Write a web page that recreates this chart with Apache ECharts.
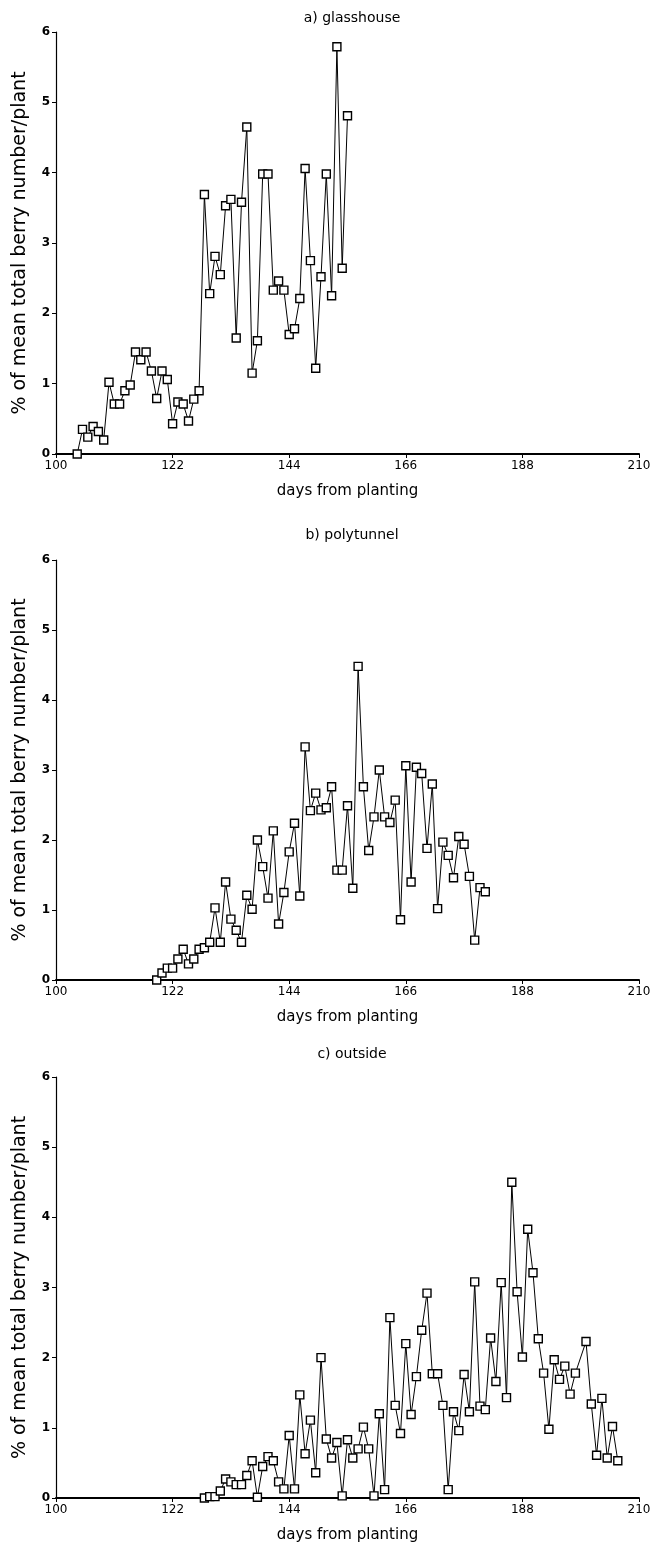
<!DOCTYPE html>
<html>
<head>
<meta charset="utf-8">
<script src="https://cdn.jsdelivr.net/npm/echarts@6/dist/echarts.min.js"></script>
<style>
html,body{margin:0;padding:0;background:#fff;}
#chart{width:656px;height:1557px;}
</style>
</head>
<body>
<div id="chart"></div>
<script>
const panelTitles = ['a) glasshouse', 'b) polytunnel', 'c) outside'];
const xTicks = [100, 122, 144, 166, 188, 210];
const yTicks = [0, 1, 2, 3, 4, 5, 6];

const daysA = [104,105,106,107,108,109,110,111,112,113,114,115,116,117,118,119,120,121,122,123,124,125,126,127,128,129,130,131,132,133,134,135,136,137,138,139,140,141,142,143,144,145,146,147,148,149,150,151,152,153,154,155];
const valuesA = [0,0.35,0.24,0.39,0.32,0.20,1.02,0.71,0.71,0.90,0.98,1.45,1.34,1.45,1.18,0.79,1.18,1.06,0.43,0.74,0.71,0.47,0.78,0.90,3.69,2.28,2.81,2.55,3.53,3.62,1.65,3.58,4.65,1.15,1.61,3.98,3.98,2.33,2.46,2.33,1.70,1.78,2.21,4.06,2.75,1.22,2.52,3.98,2.25,5.79,2.64,4.81];

const daysB = [119,120,121,122,123,124,125,126,127,128,129,130,131,132,133,134,135,136,137,138,139,140,141,142,143,144,145,146,147,148,149,150,151,152,153,154,155,156,157,158,159,160,161,162,163,164,165,166,167,168,169,170,171,172,173,174,175,176,177,178,179,180,181];
const valuesB = [0,0.10,0.17,0.17,0.30,0.44,0.23,0.30,0.44,0.46,0.54,1.03,0.54,1.40,0.87,0.71,0.54,1.21,1.01,2.00,1.62,1.17,2.13,0.80,1.25,1.83,2.24,1.20,3.33,2.42,2.67,2.43,2.46,2.76,1.57,1.57,2.49,1.31,4.48,2.76,1.85,2.33,3.00,2.33,2.25,2.57,0.86,3.06,1.40,3.04,2.95,1.88,2.80,1.02,1.97,1.78,1.46,2.05,1.94,1.48,0.57,1.32,1.26];

const daysC = [128,129,130,131,132,133,134,135,136,137,138,139,140,141,142,143,144,145,146,147,148,149,150,151,152,153,154,155,156,157,158,159,160,161,162,163,164,165,166,167,168,169,170,171,172,173,174,175,176,177,178,179,180,181,182,183,184,185,186,187,188,189,190,191,192,193,194,195,196,197,198,200,201,202,203,204,205,206];
const valuesC = [0,0.02,0.02,0.10,0.27,0.23,0.19,0.19,0.32,0.53,0.01,0.45,0.59,0.53,0.23,0.13,0.89,0.13,1.47,0.63,1.11,0.36,2.00,0.84,0.57,0.79,0.03,0.83,0.57,0.70,1.01,0.70,0.03,1.20,0.12,2.57,1.32,0.92,2.20,1.19,1.73,2.39,2.92,1.77,1.77,1.32,0.12,1.23,0.96,1.76,1.23,3.08,1.31,1.26,2.28,1.66,3.07,1.43,4.50,2.94,2.01,3.83,3.21,2.27,1.78,0.98,1.97,1.69,1.88,1.48,1.78,2.23,1.34,0.61,1.42,0.57,1.02,0.53];

const allDays = [daysA, daysB, daysC];
const allValues = [valuesA, valuesB, valuesC];

const gridTops = [32, 560, 1077];
const gridHeights = [422, 420, 421];
const titleTops = [6, 523, 1042];
const FONT = '"DejaVu Sans", sans-serif';

const grids = [], xAxes = [], yAxes = [], series = [], titles = [];
for (let i = 0; i < 3; i++) {
  grids.push({left: 56, width: 583, top: gridTops[i], height: gridHeights[i], containLabel: false, outerBoundsMode: 'none'});
  titles.push({
    text: panelTitles[i], left: 347, top: titleTops[i], textAlign: 'center',
    textStyle: {fontFamily: FONT, fontSize: 14, fontWeight: 'normal', color: '#000'}
  });
  xAxes.push({
    type: 'value', gridIndex: i, min: xTicks[0], max: xTicks[xTicks.length - 1], interval: 22,
    name: 'days from planting', nameLocation: 'middle', nameGap: 30,
    nameTextStyle: {fontFamily: FONT, fontSize: 15, color: '#000'},
    axisLine: {show: true, onZero: false, lineStyle: {color: '#000', width: 2}},
    axisTick: {show: true, length: 4, lineStyle: {color: '#000', width: 1}},
    axisLabel: {fontFamily: FONT, fontSize: 12, color: '#000', margin: 6},
    splitLine: {show: false}
  });
  yAxes.push({
    type: 'value', gridIndex: i, min: yTicks[0], max: yTicks[yTicks.length - 1], interval: 1,
    name: '% of mean total berry number/plant', nameLocation: 'middle', nameGap: 26, nameRotate: 90,
    nameTextStyle: {fontFamily: FONT, fontSize: 19, color: '#000'},
    axisLine: {show: true, lineStyle: {color: '#000', width: 1.2}},
    axisTick: {show: true, length: 4, lineStyle: {color: '#000', width: 1}},
    axisLabel: {fontFamily: FONT, fontSize: 12, fontWeight: 'bold', color: '#000', margin: 6},
    splitLine: {show: false}
  });
  const d = allDays[i].map((day, k) => [day, allValues[i][k]]);
  series.push({
    type: 'line', xAxisIndex: i, yAxisIndex: i, data: d,
    symbol: 'rect', symbolSize: 8, showAllSymbol: true,
    lineStyle: {color: '#000', width: 1},
    itemStyle: {color: '#fff', borderColor: '#000', borderWidth: 1.4},
    animation: false, z: 3
  });
}

const chart = echarts.init(document.getElementById('chart'), null, {renderer: 'canvas'});
chart.setOption({
  backgroundColor: '#fff',
  animation: false,
  title: titles,
  grid: grids,
  xAxis: xAxes,
  yAxis: yAxes,
  series: series
});
</script>
</body>
</html>
